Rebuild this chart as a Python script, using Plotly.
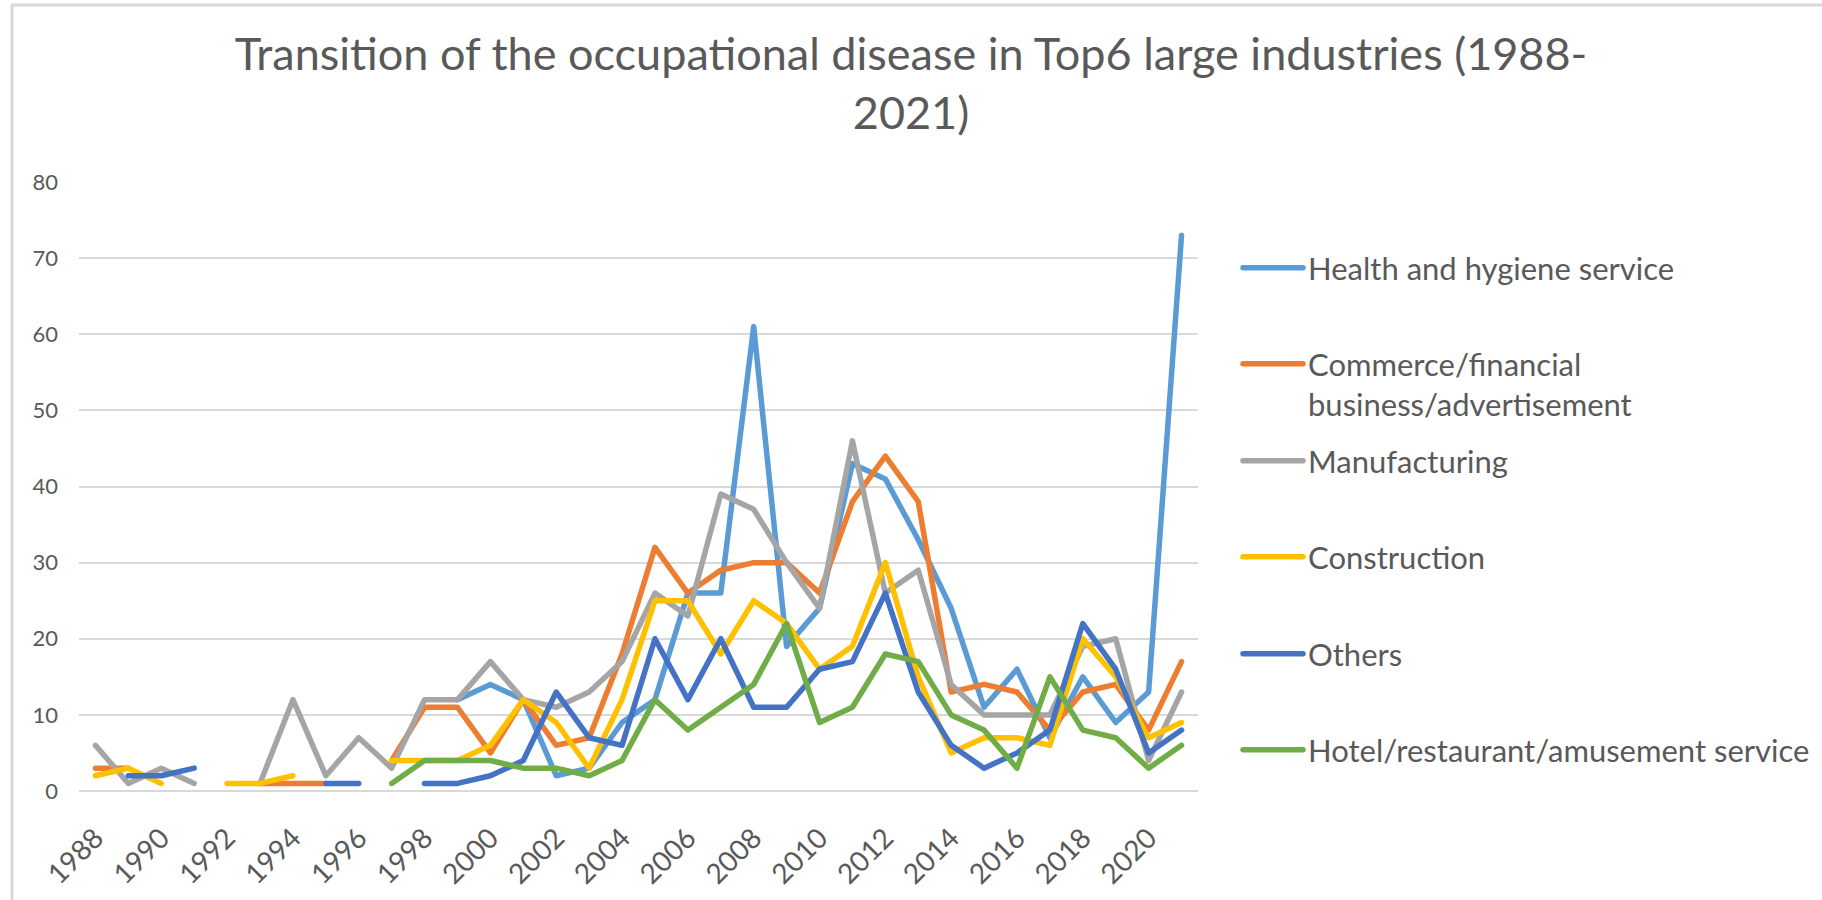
import plotly.graph_objects as go

years = list(range(1988, 2022))
N = None

health = [N, N, N, N, N, N, N, N, N, N, N, 12, 14, 12, 2, 3, 9, 12, 26, 26, 61, 19, 24, 43, 41, 33, 24, 11, 16, 7, 15, 9, 13, 73]
commerce = [3, 3, N, N, N, 1, 1, 1, N, 4, 11, 11, 5, 12, 6, 7, 18, 32, 26, 29, 30, 30, 26, 38, 44, 38, 13, 14, 13, 8, 13, 14, 8, 17]
manufacturing = [6, 1, 3, 1, N, 1, 12, 2, 7, 3, 12, 12, 17, 12, 11, 13, 17, 26, 23, 39, 37, 30, 24, 46, 26, 29, 14, 10, 10, 10, 19, 20, 4, 13]
construction = [2, 3, 1, N, 1, 1, 2, N, N, 4, 4, 4, 6, 12, 9, 3, 12, 25, 25, 18, 25, 22, 16, 19, 30, 15, 5, 7, 7, 6, 20, 15, 7, 9]
others = [N, 2, 2, 3, N, N, N, 1, 1, N, 1, 1, 2, 4, 13, 7, 6, 20, 12, 20, 11, 11, 16, 17, 26, 13, 6, 3, 5, 8, 22, 16, 5, 8]
hotel = [N, N, N, N, N, N, N, N, N, 1, 4, 4, 4, 3, 3, 2, 4, 12, 8, 11, 14, 22, 9, 11, 18, 17, 10, 8, 3, 15, 8, 7, 3, 6]

series_names = [
    "Health and hygiene service",
    "Commerce/financial<br>business/advertisement",
    "Manufacturing",
    "Construction",
    "Others",
    "Hotel/restaurant/amusement service",
]
series_values = [health, commerce, manufacturing, construction, others, hotel]
colors = ["#5B9BD5", "#ED7D31", "#A5A5A5", "#FFC000", "#4472C4", "#70AD47"]
tick_years = list(range(1988, 2021, 2))

FONT = "Lato"
TXT = "#595959"

W, H = 1822, 900
L, R, T, B = 79, 624, 182, 109
PW, PH = W - L - R, H - T - B


def px_x(px):
    return (px - L) / PW


def px_y(py):
    return (H - B - py) / PH


fig = go.Figure()
legend_names = ["legend", "legend2", "legend3", "legend4", "legend5", "legend6"]
for name, vals, col, lg in zip(series_names, series_values, colors, legend_names):
    fig.add_trace(go.Scatter(
        x=years, y=vals, name=name, mode="lines",
        line=dict(color=col, width=5.5),
        connectgaps=False, legend=lg,
    ))

legend_centers = [268, 384, 461, 557, 654, 750]
layout_legends = {}
for lg, cy in zip(legend_names, legend_centers):
    layout_legends[lg] = dict(
        x=px_x(1238), xanchor="left",
        y=px_y(cy), yanchor="middle",
        font=dict(family=FONT, size=31, color=TXT),
        bgcolor="rgba(0,0,0,0)", borderwidth=0,
        valign="top", itemwidth=60,
    )

fig.update_layout(
    width=W, height=H,
    margin=dict(l=L, r=R, t=T, b=B, autoexpand=False),
    paper_bgcolor="white", plot_bgcolor="white",
    title=dict(
        text="Transition of the occupational disease in Top6 large industries (1988-<br>2021)",
        x=0.5, xanchor="center", xref="container",
        y=1 - 70 / H, yanchor="top", yref="container",
        font=dict(family=FONT, size=45, color=TXT),
    ),
    xaxis=dict(
        range=[1987.5, 2021.5], tickmode="array", tickvals=tick_years,
        ticktext=[str(y) for y in tick_years], tickangle=-45,
        showgrid=False, zeroline=False, showline=False, ticks="",
        tickfont=dict(family=FONT, size=28, color=TXT),
        ticklabelstandoff=24, automargin=False,
    ),
    yaxis=dict(
        range=[0, 80], dtick=10, tick0=0,
        showgrid=True, gridcolor="#D9D9D9", gridwidth=2,
        zeroline=True, zerolinecolor="#D9D9D9", zerolinewidth=2,
        showline=False, ticks="",
        tickfont=dict(family=FONT, size=22, color=TXT),
        ticklabelstandoff=20, automargin=False,
    ),
    showlegend=True,
    shapes=[
        dict(type="line", xref="paper", yref="paper",
             x0=px_x(12), x1=px_x(12), y0=px_y(4), y1=px_y(900),
             line=dict(color="#D9D9D9", width=3)),
        dict(type="line", xref="paper", yref="paper",
             x0=px_x(11), x1=px_x(1822), y0=px_y(5), y1=px_y(5),
             line=dict(color="#D9D9D9", width=3)),
    ],
    **layout_legends,
)

fig.write_html(
    "out.html",
    config={"displayModeBar": False},
    post_script=(
        "document.body.style.margin='0';document.body.style.overflow='hidden';"
        "var s=document.createElement('style');"
        "s.textContent='.js-line{stroke-linejoin:round !important;stroke-linecap:round !important;}';"
        "document.head.appendChild(s);"
    ),
)
